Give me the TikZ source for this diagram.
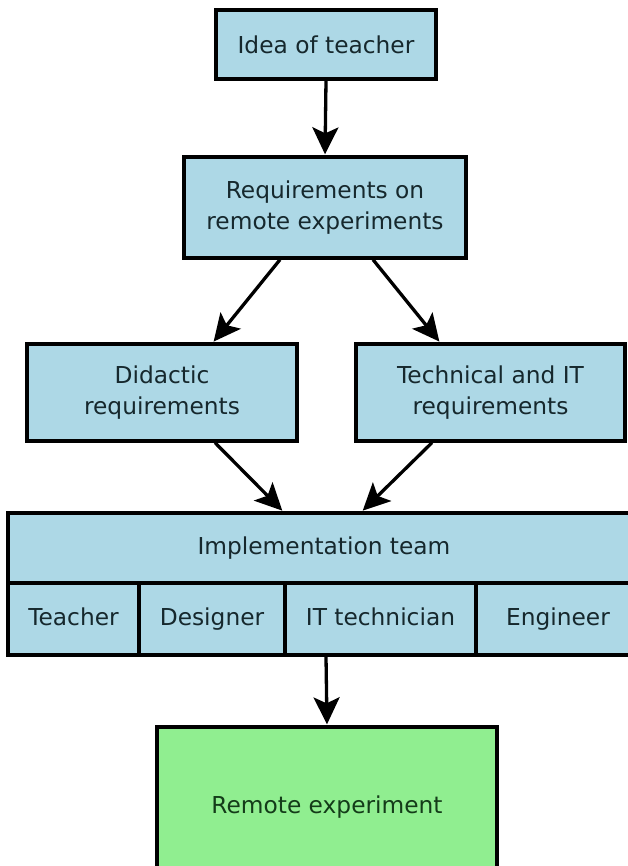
\documentclass[tikz,border=0pt]{standalone}
\usepackage{fontspec}
\setmainfont{DejaVu Sans}
\usetikzlibrary{arrows.meta,calc}
\definecolor{boxblue}{RGB}{173,216,230}
\definecolor{boxgreen}{RGB}{144,238,144}
\definecolor{txt}{RGB}{22,40,45}
\tikzset{
  box/.style={draw=black, line width=3.3pt, fill=boxblue, text=txt, align=center,
    font=\fontsize{23.3pt}{31pt}\selectfont, inner sep=0pt},
  cell/.style={box, minimum height=72pt, text height=17pt, text depth=5pt},
  conn/.style={line width=3.3pt, -{Stealth[length=27pt,width=26pt,inset=6pt]}, shorten >=1pt}
}
\begin{document}
\begin{tikzpicture}[x=1pt,y=-1pt]
\useasboundingbox[fill=white] (0,0) rectangle (628,866);
\node[box, minimum width=220pt, minimum height=69pt] (idea) at (326,44.5) {Idea of teacher};
\node[box, minimum width=282pt, minimum height=101pt] (req) at (325,207.5) {Requirements on\\remote experiments};
\node[box, minimum width=270pt, minimum height=97pt] (did) at (162,392.5) {Didactic\\requirements};
\node[box, minimum width=269pt, minimum height=97pt] (tech) at (490.5,392.5) {Technical and IT\\requirements};
\node[box, minimum width=632pt, minimum height=70pt] (impl) at (324,548) {Implementation team};
\node[cell, minimum width=131pt] (teacher) at (73.5,619) {Teacher};
\node[cell, minimum width=146pt] (designer) at (212,619) {Designer};
\node[cell, minimum width=191pt] (ittech) at (380.5,619) {IT technician};
\node[cell, minimum width=164pt] (engineer) at (558,619) {Engineer};
\node[box, fill=boxgreen, text={rgb,255:red,20;green,60;blue,25}, minimum width=340pt, minimum height=160pt] (remote) at (327,807) {Remote experiment};
\draw[conn] (idea.south) -- (req.north);
\draw[conn] ([xshift=-45pt]req.south) -- ([xshift=51pt]did.north);
\draw[conn] ([xshift=48pt]req.south) -- ([xshift=-50.5pt]tech.north);
\draw[conn] ([xshift=53pt]did.south) -- ([xshift=-41pt]impl.north);
\draw[conn] ([xshift=-58.5pt]tech.south) -- ([xshift=38pt]impl.north);
\draw[conn] ([xshift=2pt]impl.south |- ittech.south) -- (remote.north);
\end{tikzpicture}
\end{document}
